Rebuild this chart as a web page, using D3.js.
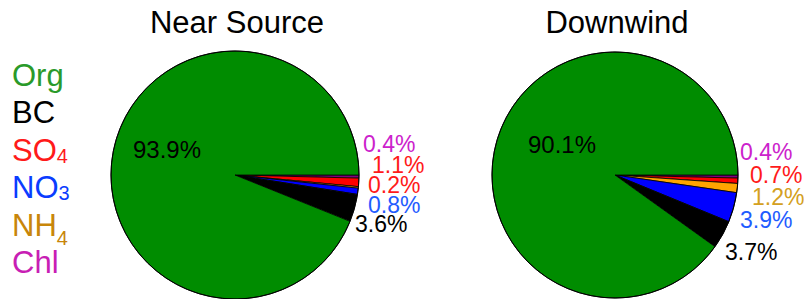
<!DOCTYPE html>
<html>
<head>
<meta charset="utf-8">
<script src="https://cdn.jsdelivr.net/npm/d3@7"></script>
<style>
  body { margin: 0; background: #fff; }
  svg { display: block; font-family: "Liberation Sans", Arial, sans-serif; }
</style>
</head>
<body>
<div id="main"></div>
<script>
// species, in clockwise order from 3 o'clock
const species = ["Chl", "SO4", "NH4", "NO3", "BC", "Org"];
const nearSource = [0.4, 1.1, 0.2, 0.8, 3.6, 93.9];
const downwind = [0.4, 0.7, 1.2, 3.9, 3.7, 90.1];
const titles = ["Near Source", "Downwind"];

// legend (top to bottom)
const legendItems = [
    { name: "Org", sub: "" },
    { name: "BC", sub: "" },
    { name: "SO", sub: "4" },
    { name: "NO", sub: "3" },
    { name: "NH", sub: "4" },
    { name: "Chl", sub: "" }
];

const sliceColor = { Org: "#008c00", BC: "#000000", SO4: "#ff0000", NO3: "#0000ff", NH4: "#ffa500", Chl: "#800080" };
const legendColor = { Org: "#2a9a2a", BC: "#000000", SO: "#ff1a1a", NO: "#0a3cff", NH: "#c8860a", Chl: "#c81eb4" };

const width = 804, height = 299;

const svg = d3.select("#main")
    .append("svg")
    .attr("width", width)
    .attr("height", height);

// legend
const legend = svg.append("g").attr("class", "legend");
const lt = legend.selectAll("text")
    .data(legendItems)
    .enter().append("text")
    .attr("x", 12)
    .attr("y", (d, i) => 86 + i * 37.4)
    .attr("font-size", 31)
    .attr("fill", d => legendColor[d.name]);
lt.append("tspan").text(d => d.name);
lt.append("tspan")
    .attr("font-size", 20)
    .attr("dy", d => d.name === "NH" ? 9 : 2)
    .text(d => d.sub);

// layout of each pie (positions only)
const pies = [
    {
        data: nearSource, cx: 235, cy: 175, r: 124,
        big: [-102, -17],
        labels: [[128, -23], [137, -2], [133, 18], [133, 38], [120, 57]],
        labelColor: ["#cc22cc", "#ff1a1a", "#ff1a1a", "#1f5cff", "#000000"]
    },
    {
        data: downwind, cx: 615, cy: 175, r: 123,
        big: [-87, -22],
        labels: [[125, -15], [135, 8], [137, 30], [125, 53], [110, 85]],
        labelColor: ["#cc22cc", "#ff1a1a", "#d4a020", "#1f5cff", "#000000"]
    }
];

const pie = d3.pie()
    .sort(null)
    .value(d => d)
    .startAngle(Math.PI / 2)
    .endAngle(Math.PI / 2 + 2 * Math.PI);

pies.forEach((p, k) => {
    const g = svg.append("g")
        .attr("transform", `translate(${p.cx},${p.cy})`);

    const arc = d3.arc().innerRadius(0).outerRadius(p.r);

    g.selectAll("path")
        .data(pie(p.data))
        .enter().append("path")
        .attr("d", arc)
        .attr("fill", (d, i) => sliceColor[species[i]])
        .attr("stroke", "#000")
        .attr("stroke-width", 0.8)
        .attr("stroke-linejoin", "round");

    g.append("circle")
        .attr("r", p.r)
        .attr("fill", "none")
        .attr("stroke", "#000")
        .attr("stroke-width", 1);

    // small slice labels
    g.selectAll("text.small")
        .data(p.data.slice(0, 5))
        .enter().append("text")
        .attr("class", "small")
        .attr("x", (d, i) => p.labels[i][0])
        .attr("y", (d, i) => p.labels[i][1])
        .attr("font-size", 23)
        .attr("fill", (d, i) => p.labelColor[i])
        .text(d => d.toFixed(1) + "%");

    // Org label
    g.append("text")
        .attr("x", p.big[0])
        .attr("y", p.big[1])
        .attr("font-size", 24)
        .attr("fill", "#000")
        .text(p.data[5].toFixed(1) + "%");

    svg.append("text")
        .attr("x", p.cx + 2)
        .attr("y", 33)
        .attr("text-anchor", "middle")
        .attr("font-size", 31)
        .attr("fill", "#000")
        .text(titles[k]);
});
</script>
</body>
</html>
